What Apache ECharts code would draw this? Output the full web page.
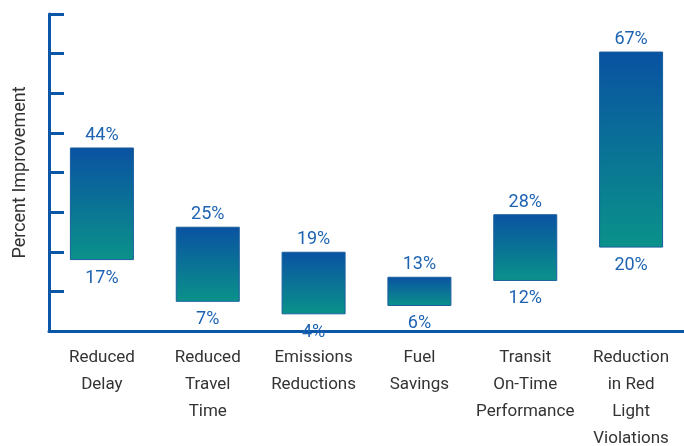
<!DOCTYPE html>
<html>
<head>
<meta charset="utf-8">
<script src="https://cdn.jsdelivr.net/npm/echarts@6/dist/echarts.min.js"></script>
<style>
html,body{margin:0;padding:0;background:#fff}
#main{width:684px;height:446px}
</style>
</head>
<body>
<div id="main"></div>
<script>
var categories = ['Reduced\nDelay', 'Reduced\nTravel\nTime', 'Emissions\nReductions', 'Fuel\nSavings', 'Transit\nOn-Time\nPerformance', 'Reduction\nin Red\nLight\nViolations'];
var lowValues = [17, 7, 4, 6, 12, 20];
var highValues = [44, 25, 19, 13, 28, 67];

var font = '"Liberation Sans Narrow", Roboto, sans-serif';
var blue = '#0b56a6';
var labelBlue = '#1d63b2';

// the visible part of each bar is high minus low, stacked on an invisible base
var spans = [];
for (var i = 0; i < highValues.length; i++) {
    spans.push(highValues[i] - lowValues[i]);
}

var myChart = echarts.init(document.getElementById('main'));
myChart.setOption({
    animation: false,
    grid: {left: 49, right: 0, top: 14, bottom: 115, outerBoundsMode: 'none', containLabel: false},
    xAxis: {
        type: 'category',
        data: categories,
        axisLine: {lineStyle: {color: blue, width: 3}},
        axisTick: {show: false},
        axisLabel: {
            interval: 0,
            color: '#333',
            fontFamily: font,
            fontSize: 17,
            lineHeight: 27,
            margin: 13
        }
    },
    yAxis: {
        type: 'value',
        min: 0,
        max: 76,
        interval: 9.5,
        name: 'Percent Improvement',
        nameLocation: 'middle',
        nameGap: 20,
        nameTextStyle: {color: '#333', fontFamily: font, fontSize: 18},
        axisLine: {show: true, lineStyle: {color: blue, width: 3}},
        axisTick: {show: true, inside: true, length: 15, lineStyle: {color: blue, width: 3}},
        axisLabel: {show: false},
        splitLine: {show: false}
    },
    series: [
        {
            type: 'bar',
            stack: 'range',
            barWidth: 64,
            data: lowValues,
            itemStyle: {color: 'transparent'},
            label: {
                show: true,
                position: 'insideTop',
                distance: 9,
                color: labelBlue,
                fontFamily: font,
                fontSize: 18,
                formatter: function (p) { return lowValues[p.dataIndex] + '%'; }
            }
        },
        {
            type: 'bar',
            stack: 'range',
            barWidth: 64,
            data: spans,
            itemStyle: {
                color: new echarts.graphic.LinearGradient(0, 0, 0, 1, [
                    {offset: 0, color: '#0a52a2'},
                    {offset: 1, color: '#0a928a'}
                ]),
                borderColor: '#1a5f9e',
                borderWidth: 1
            },
            label: {
                show: true,
                position: 'top',
                distance: 3,
                color: labelBlue,
                fontFamily: font,
                fontSize: 18,
                formatter: function (p) { return highValues[p.dataIndex] + '%'; }
            }
        }
    ]
});
</script>
</body>
</html>
